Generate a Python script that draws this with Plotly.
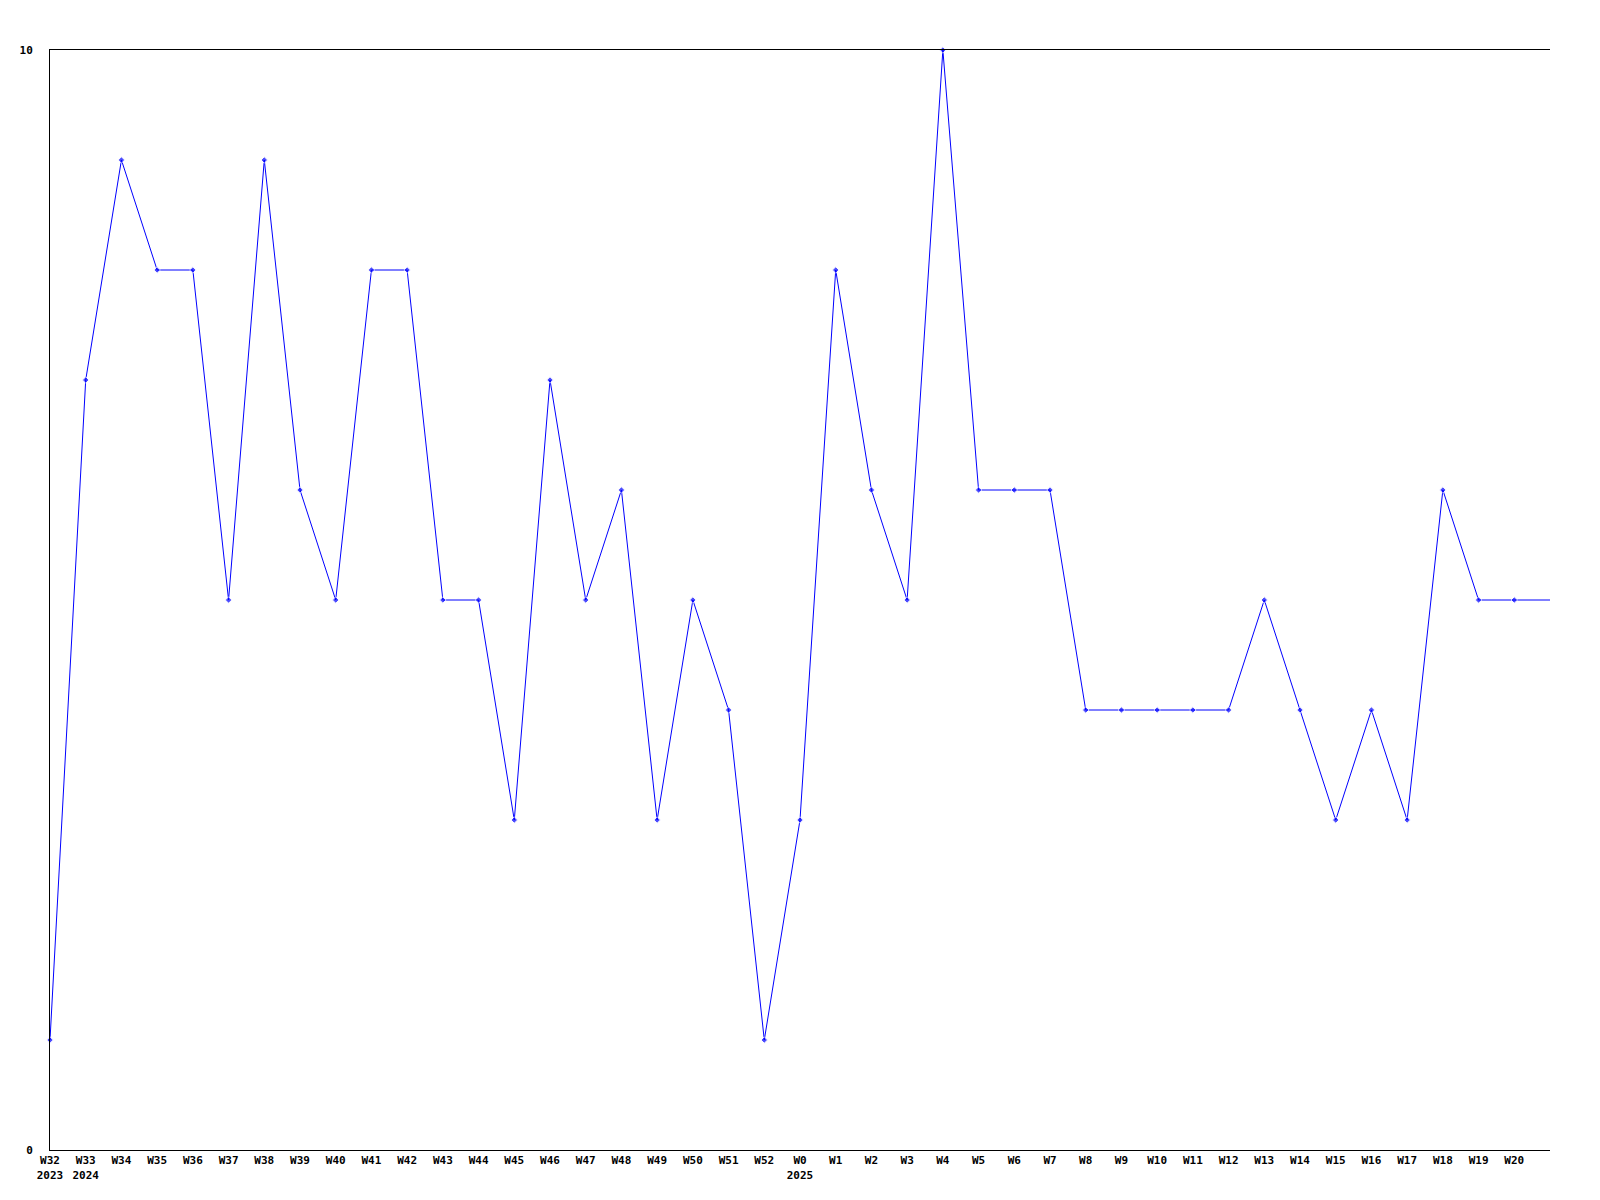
import plotly.graph_objects as go

weeks = ["W32", "W33", "W34", "W35", "W36", "W37", "W38", "W39", "W40", "W41",
         "W42", "W43", "W44", "W45", "W46", "W47", "W48", "W49", "W50", "W51",
         "W52", "W0", "W1", "W2", "W3", "W4", "W5", "W6", "W7", "W8",
         "W9", "W10", "W11", "W12", "W13", "W14", "W15", "W16", "W17", "W18",
         "W19", "W20"]
years = {0: "2023", 1: "2024", 21: "2025"}
values = [1, 7, 9, 8, 8, 5, 9, 6, 5, 8,
          8, 5, 5, 3, 7, 5, 6, 3, 5, 4,
          1, 3, 8, 6, 5, 10, 6, 6, 6, 4,
          4, 4, 4, 4, 5, 4, 3, 4, 3, 6,
          5, 5]
# the line continues to the plot edge at the next (unlabelled) week
trailing_value = 5

x_all = list(range(len(values) + 1))
y_all = values + [trailing_value]
marker_sizes = [5] * len(values) + [0]

ticktext = [w + ("<br>" + years[i] if i in years else "") for i, w in enumerate(weeks)]

fig = go.Figure()
fig.add_trace(go.Scatter(
    x=x_all, y=y_all, mode="lines+markers",
    line=dict(color="#0000ff", width=1),
    marker=dict(symbol="diamond", size=marker_sizes, color="#0000ff"),
    cliponaxis=False, showlegend=False, hoverinfo="skip",
))

font = dict(family="DejaVu Sans Mono", size=11, color="black")
fig.update_layout(
    width=1600, height=1200,
    margin=dict(l=42, r=58, t=42, b=58),
    paper_bgcolor="white", plot_bgcolor="white",
    font=font,
    xaxis=dict(range=[0, len(values)], tickmode="array",
               tickvals=list(range(len(weeks))), ticktext=ticktext,
               showgrid=False, zeroline=False, showline=True, mirror=True,
               linecolor="black", linewidth=1, ticks="", tickangle=0,
               tickfont=dict(family="DejaVu Sans Mono", size=11, color="black", weight="bold")),
    yaxis=dict(range=[0, 10], tickmode="array", tickvals=[0, 10], ticktext=["0", "10"],
               showgrid=False, zeroline=False, showline=True, mirror=False,
               linecolor="black", linewidth=1, ticks="", ticklabelstandoff=14,
               tickfont=dict(family="DejaVu Sans Mono", size=11, color="black", weight="bold")),
)

fig.write_html("out.html")
